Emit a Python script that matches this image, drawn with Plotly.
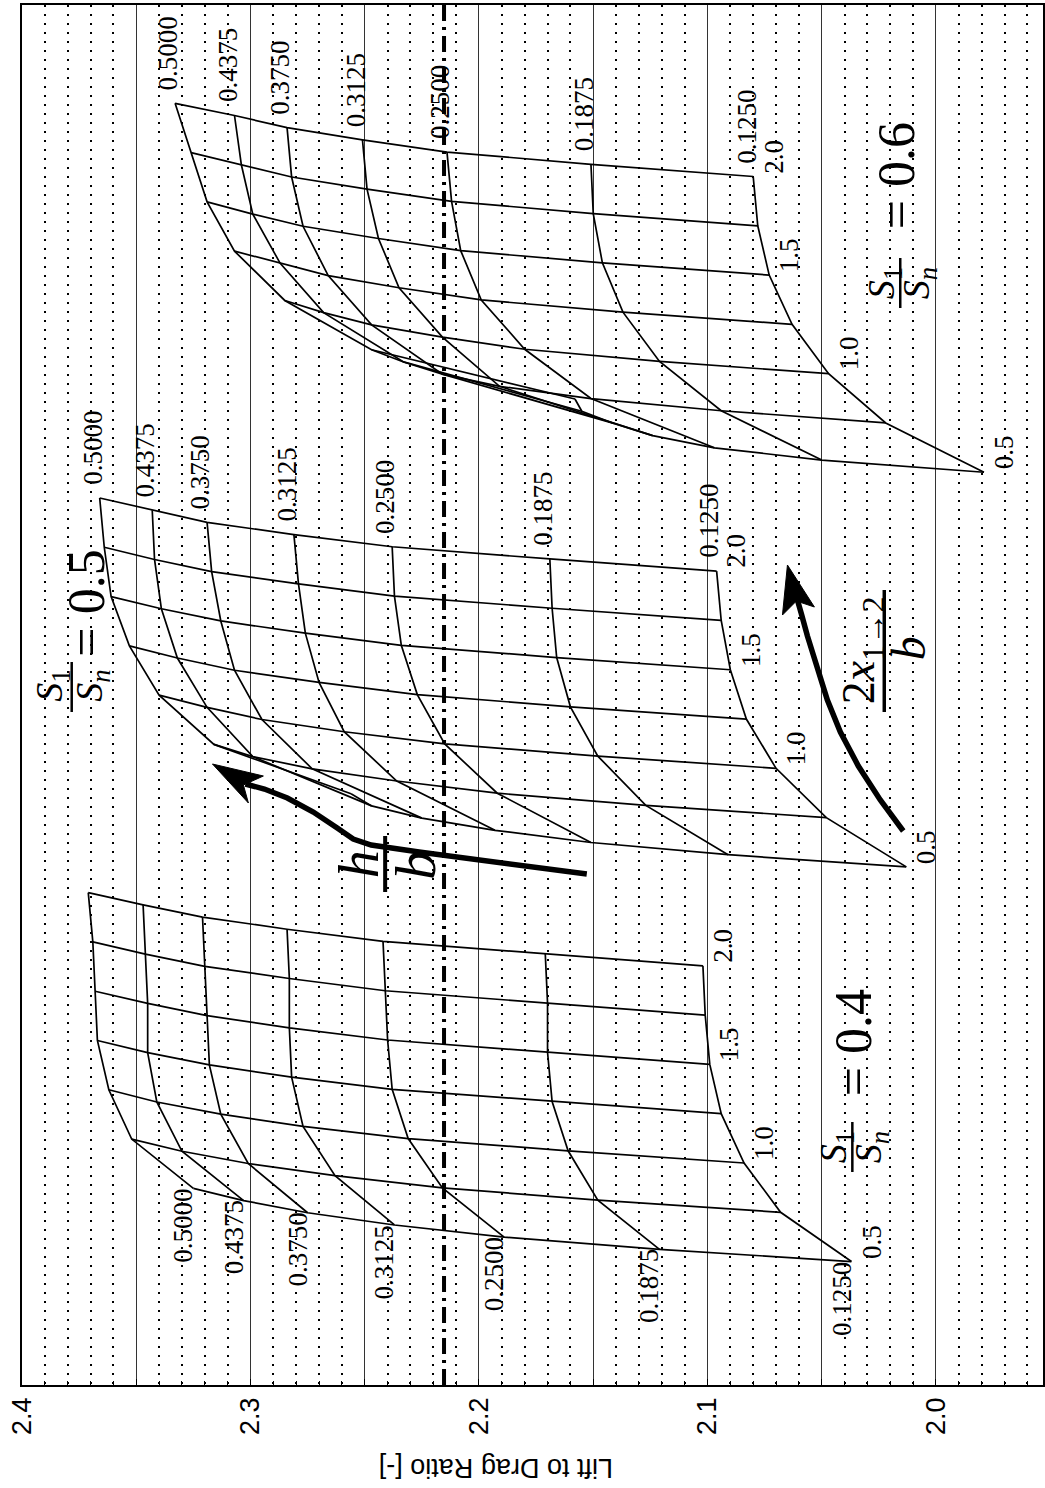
import plotly.graph_objects as go

# ---------------- data ----------------
HB = ["0.5000", "0.4375", "0.3750", "0.3125", "0.2500", "0.1875", "0.1250"]   # h/b lines
X2B = [2.0, 1.75, 1.5, 1.25, 1.0, 0.75, 0.5]                                  # 2x_{1->2}/b lines
X2B_LABELS = {0: "2.0", 2: "1.5", 4: "1.0", 6: "0.5"}

# Lift to drag ratio, rows = h/b (HB order), columns = 2x/b (X2B order)
LD_04 = [
    [2.371, 2.369, 2.368, 2.367, 2.362, 2.352, 2.325],
    [2.347, 2.346, 2.345, 2.345, 2.341, 2.330, 2.303],
    [2.321, 2.320, 2.319, 2.318, 2.313, 2.301, 2.275],
    [2.284, 2.283, 2.283, 2.282, 2.277, 2.263, 2.237],
    [2.242, 2.241, 2.240, 2.238, 2.231, 2.216, 2.189],
    [2.171, 2.170, 2.170, 2.168, 2.161, 2.148, 2.121],
    [2.102, 2.101, 2.099, 2.094, 2.084, 2.068, 2.037],
]
LD_05 = [
    [2.366, 2.364, 2.361, 2.353, 2.340, 2.316, 2.256],
    [2.343, 2.342, 2.339, 2.332, 2.319, 2.299, 2.247],
    [2.319, 2.317, 2.313, 2.307, 2.295, 2.273, 2.225],
    [2.281, 2.279, 2.276, 2.270, 2.259, 2.236, 2.193],
    [2.238, 2.237, 2.234, 2.227, 2.215, 2.192, 2.151],
    [2.169, 2.168, 2.166, 2.160, 2.148, 2.127, 2.091],
    [2.096, 2.094, 2.090, 2.083, 2.070, 2.048, 2.013],
]
LD_06 = [
    [2.333, 2.326, 2.319, 2.307, 2.285, 2.247, 2.158],
    [2.307, 2.304, 2.299, 2.287, 2.268, 2.233, 2.155],
    [2.284, 2.282, 2.277, 2.266, 2.247, 2.216, 2.141],
    [2.251, 2.249, 2.244, 2.235, 2.216, 2.191, 2.124],
    [2.214, 2.212, 2.208, 2.199, 2.180, 2.151, 2.097],
    [2.151, 2.150, 2.146, 2.137, 2.121, 2.094, 2.050],
    [2.080, 2.078, 2.073, 2.063, 2.047, 2.022, 1.979],
]
CARPETS = [("0.6", LD_06, 0), ("0.5", LD_05, 1), ("0.4", LD_04, 2)]

DESIGN_LD = 2.2153
TICK_VALS = [2.0, 2.1, 2.2, 2.3, 2.4]
TICK_TEXT = ["2.0", "2.1", "2.2", "2.3", "2.4"]

# ---------------- cheater axis (carpet construction) ----------------
CARPET_SHIFT = 32.35   # shift between carpets
CHEATER_SLOPE = 4.04   # shift per 2x/b row


def cheater(k, i, j):
    return k * CARPET_SHIFT + i + CHEATER_SLOPE * j


# pixel helpers for decorations (plot area: x 22.2..1045, y 5..1385)
def ldp(px):
    return 2.4 - (px - 22.2) / 2289.0


def up(py):
    return (py - 103.3) / 12.2


XR = [2.4, ldp(1045)]
YR = [up(1385), up(5)]

fig = go.Figure()

LINE = dict(color="black", width=1.7)
annotations = []
SER = "Liberation Serif"
BLACK = "black"

for name, LD, k in CARPETS:
    xs, ys = [], []
    for i in range(len(HB)):          # constant h/b lines
        for j in range(len(X2B)):
            xs.append(LD[i][j]); ys.append(cheater(k, i, j))
        xs.append(None); ys.append(None)
    for j in range(len(X2B)):         # constant 2x/b lines
        for i in range(len(HB)):
            xs.append(LD[i][j]); ys.append(cheater(k, i, j))
        xs.append(None); ys.append(None)
    fig.add_trace(go.Scatter(x=xs, y=ys, mode="lines", line=LINE,
                             hoverinfo="skip", showlegend=False))
    # h/b labels
    for i, lab in enumerate(HB):
        if name == "0.4":
            j = len(X2B) - 1
            annotations.append(dict(x=LD[i][j], y=cheater(k, i, j), text=lab, textangle=-90,
                                    showarrow=False, xanchor="center", yanchor="top",
                                    xshift=-10, yshift=2, font=dict(family=SER, size=27, color=BLACK)))
        else:
            j = 0
            annotations.append(dict(x=LD[i][j], y=cheater(k, i, j), text=lab, textangle=-90,
                                    showarrow=False, xanchor="center", yanchor="bottom",
                                    xshift=-7, yshift=11, font=dict(family=SER, size=27, color=BLACK)))
    # 2x/b labels along h/b = 0.125 edge
    i = len(HB) - 1
    for j, lab in X2B_LABELS.items():
        annotations.append(dict(x=LD[i][j], y=cheater(k, i, j), text=lab, textangle=-90,
                                showarrow=False, xanchor="left", yanchor="bottom",
                                xshift=3, yshift=1, font=dict(family=SER, size=27, color=BLACK)))

# ---------------- thick arrows (decoration, pixel paths) ----------------
ARROW1 = [(588, 874), (500, 863), (420, 852), (372, 845), (354, 839), (338, 828),
          (314, 812), (288, 798), (265, 789), (246, 784)]
HEAD1 = [(213, 764), (264, 776), (244, 785), (249, 803)]
ARROW2 = [(905, 831), (882, 800), (860, 766), (842, 732), (829, 700), (818, 666),
          (809, 636), (803, 614), (799, 600)]
HEAD2 = [(789, 565), (816, 607), (798, 601), (784, 615)]


def arrow(path, head):
    fig.add_trace(go.Scatter(x=[ldp(p[0]) for p in path], y=[up(p[1]) for p in path],
                             mode="lines", line=dict(color="black", width=5.5),
                             hoverinfo="skip", showlegend=False))
    pts = head + [head[0]]
    fig.add_trace(go.Scatter(x=[ldp(p[0]) for p in pts], y=[up(p[1]) for p in pts],
                             mode="lines", fill="toself", fillcolor="black",
                             line=dict(color="black", width=1),
                             hoverinfo="skip", showlegend=False))


arrow(ARROW1, HEAD1)
arrow(ARROW2, HEAD2)


# ---------------- big math labels ----------------
def txt(px, py, text, size):
    annotations.append(dict(x=ldp(px), y=up(py), text=text, textangle=-90, showarrow=False,
                            xanchor="center", yanchor="middle",
                            font=dict(family=SER, size=size, color=BLACK)))


shapes = []


def bar(px, py0, py1, w=2.5):
    shapes.append(dict(type="line", xref="x", yref="y", x0=ldp(px), x1=ldp(px),
                       y0=up(py0), y1=up(py1), line=dict(color="black", width=w)))


S1 = "<i>S</i><sub>1</sub>"
SN = "<i>S<sub>n</sub></i>"
# S1/Sn = 0.6
txt(898, 176, "= 0.6", 52)
txt(886, 283, S1, 38); bar(902, 258, 308); txt(921, 283, SN, 38)
# S1/Sn = 0.5
txt(86, 603, "= 0.5", 52)
txt(52, 686, S1, 38); bar(72, 662, 712); txt(92, 686, SN, 38)
# S1/Sn = 0.4
txt(855, 1043, "= 0.4", 52)
txt(838, 1147, S1, 38); bar(854, 1122, 1172); txt(873, 1147, SN, 38)
# h/b
txt(360, 864, "<i>h</i>", 56); bar(386, 836, 892, 4); txt(416, 866, "<i>b</i>", 58)
# 2x_{1->2}/b
txt(864, 650, "2<i>x</i><sub>1→2</sub>", 46); bar(886, 590, 712, 3.5); txt(910, 648, "<i>b</i>", 48)

# design point dash-dot line (on the labelled overlay axis)
fig.add_trace(go.Scatter(x=[DESIGN_LD, DESIGN_LD], y=YR, xaxis="x2", mode="lines",
                         line=dict(color="black", width=4, dash="16px,6px,3px,6px"),
                         hoverinfo="skip", showlegend=False))

# axis title (upside down)
annotations.append(dict(xref="paper", yref="paper", x=(497 - 22.2) / 1022.8, y=(1385 - 1468) / 1380,
                        text="Lift to Drag Ratio [-]", textangle=180, showarrow=False,
                        xanchor="center", yanchor="middle",
                        font=dict(family="Liberation Sans", size=27, color=BLACK)))

fig.update_layout(
    width=1045, height=1488,
    margin=dict(l=22, r=0, t=5, b=103),
    paper_bgcolor="white", plot_bgcolor="white",
    font=dict(color=BLACK),
    showlegend=False,
    annotations=annotations, shapes=shapes,
    xaxis=dict(range=XR, dtick=0.05, tick0=2.0, showticklabels=False,
               ticks="inside", ticklen=6, tickcolor="black",
               showgrid=True, gridcolor="#333", gridwidth=1,
               minor=dict(tick0=2.0, dtick=0.01, showgrid=True, gridcolor="black",
                          griddash="2px,7px", gridwidth=1.5, ticks="inside", ticklen=4,
                          tickcolor="black"),
               showline=True, linecolor="black", linewidth=2, mirror=True, zeroline=False),
    xaxis2=dict(range=XR, overlaying="x", side="bottom", anchor="y",
                tickmode="array", tickvals=TICK_VALS, ticktext=TICK_TEXT,
                tickangle=-90, tickfont=dict(family="Liberation Sans", size=27, color=BLACK),
                ticks="", ticklabelstandoff=6, showgrid=False, showline=False, zeroline=False),
    yaxis=dict(range=YR, showticklabels=False, showgrid=False, zeroline=False,
               showline=True, linecolor="black", linewidth=2, mirror=True, ticks=""),
)

fig.write_html("out.html", config={"displayModeBar": False},
               post_script="document.body.style.margin='0px';")
